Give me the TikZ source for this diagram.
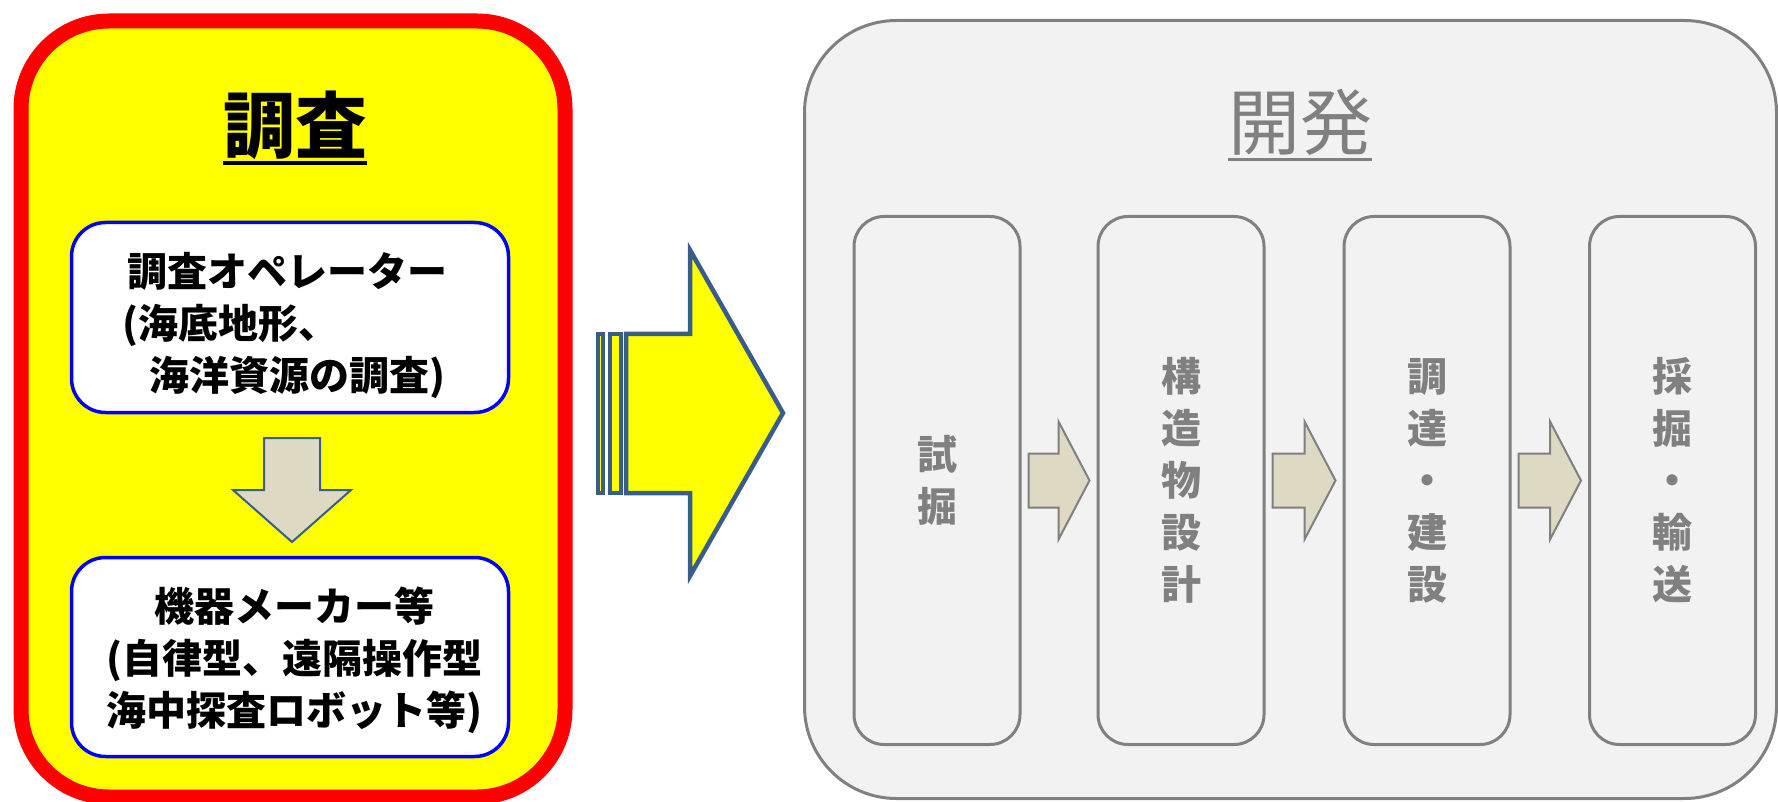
\documentclass[tikz,border=0pt]{standalone}
\usepackage{fontspec}
\setmainfont{Noto Sans CJK JP}
\usetikzlibrary{calc}
\definecolor{ppblue}{HTML}{385D8A}
\definecolor{tanfill}{HTML}{DDD9C3}
\definecolor{grayline}{HTML}{808080}
\definecolor{grayfill}{HTML}{F2F2F2}
\definecolor{pureyellow}{RGB}{255,255,0}
\newcommand\steparrow[2]{%
  \draw[smallarrow] let \p1=(#1.east), \p2=(#2.west) in
   ({\x1+7pt},{\y1+27pt}) -- ({\x2-38pt},{\y1+27pt}) -- ({\x2-38pt},{\y1+59pt})
   -- ({\x2-7pt},\y1) -- ({\x2-38pt},{\y1-59pt}) -- ({\x2-38pt},{\y1-27pt})
   -- ({\x1+7pt},{\y1-27pt}) -- cycle;}
\begin{document}
\begin{tikzpicture}[x=1pt,y=-1pt,
  survey/.style={draw=red, line width=15pt, fill=pureyellow, rounded corners=88pt,
    minimum width=544pt, minimum height=776pt, inner sep=0pt},
  bluebox/.style={draw=blue, line width=3.5pt, fill=white, rounded corners=34pt,
    minimum width=437pt, inner sep=0pt},
  blacktext/.style={font=\bfseries\fontsize{40}{52}\selectfont, text=black, inner sep=0pt},
  devbox/.style={draw=grayline, line width=3pt, fill=grayfill, rounded corners=92pt,
    minimum width=972pt, minimum height=778pt, inner sep=0pt},
  stagebox/.style={draw=grayline, line width=3pt, fill=grayfill, rounded corners=30pt,
    minimum width=166pt, minimum height=528pt, inner sep=0pt},
  stagetext/.style={font=\bfseries\fontsize{40}{52}\selectfont, text=grayline, align=center, inner sep=0pt},
  smallarrow/.style={fill=tanfill, draw=grayline, line width=2pt, line join=miter},
  downarrow/.style={fill=tanfill, draw=ppblue, line width=2pt, line join=miter},
  bigarrow/.style={fill=pureyellow, draw=ppblue, line width=4.5pt, line join=miter},
]
\useasboundingbox (0,0) rectangle (1778,802);

% ---- survey panel ----
\node[survey] (survey) at (293,409) {};
\node[font=\bfseries\fontsize{72}{72}\selectfont, anchor=base, inner sep=0pt] (stitle) at (295,153) {調査};
\draw[line width=3.5pt] ([yshift=-10pt]stitle.base west) -- ([yshift=-10pt]stitle.base east);

\node[bluebox, minimum height=190pt] (op) at (290,317.5) {};
\node[blacktext, align=left, anchor=west] (optext) at ($(op.center)+(-168,8)$)
  {\hspace*{5pt}調査オペレーター\\(海底地形、\\\hspace*{27pt}海洋資源の調査)};

\draw[downarrow] (264,438) -- (320,438) -- (320,490) -- (351,490) -- (292,542)
  -- (233,490) -- (264,490) -- cycle;

\node[bluebox, minimum height=199pt] (maker) at (290,657) {};
\node[blacktext, align=center] (makertext) at ($(maker.center)+(4,3)$)
  {機器メーカー等\\(自律型、遠隔操作型\\海中探査ロボット等)};

% ---- big arrow ----
\draw[bigarrow] (598,334) rectangle (603,493);
\draw[bigarrow] (610,334) rectangle (621,493);
\draw[bigarrow] (626,334) -- (690,334) -- (690,250) -- (783,413) -- (690,576)
  -- (690,493) -- (626,493) -- cycle;

% ---- development panel ----
\node[devbox] (dev) at (1290.5,409.5) {};
\node[font=\fontsize{72}{72}\selectfont, text=grayline, anchor=base, inner sep=0pt] (dtitle) at (1300,150) {開発};
\draw[grayline, line width=3pt] ([yshift=-10pt]dtitle.base west) -- ([yshift=-10pt]dtitle.base east);

\node[stagebox] (s1) at (937,480.5) {};
\node[stagebox] (s2) at (1181,480.5) {};
\node[stagebox] (s3) at (1427,480.5) {};
\node[stagebox] (s4) at (1672.5,480.5) {};

\node[stagetext] at (s1.center) {試\\掘};
\node[stagetext] at (s2.center) {構\\造\\物\\設\\計};
\node[stagetext] at (s3.center) {調\\達\\・\\建\\設};
\node[stagetext] at (s4.center) {採\\掘\\・\\輸\\送};

\steparrow{s1}{s2}
\steparrow{s2}{s3}
\steparrow{s3}{s4}
\end{tikzpicture}
\end{document}
